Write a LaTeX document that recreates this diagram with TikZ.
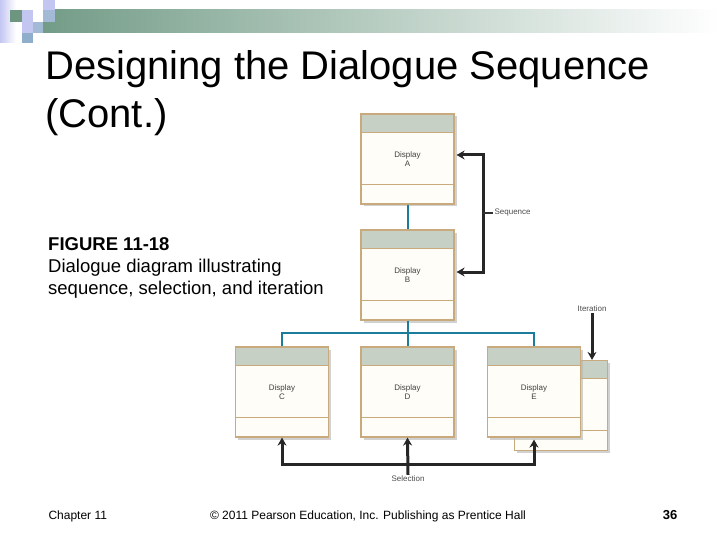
\documentclass[tikz,border=0pt]{standalone}
\usepackage{fontspec}
\setmainfont{Liberation Sans}
\usepackage{xcolor}
\usetikzlibrary{calc, shadows, arrows.meta}

\definecolor{barGreen}{HTML}{739C87}
\definecolor{sqGreen}{HTML}{6E9580}
\definecolor{sqLav}{HTML}{C4C6F2}
\definecolor{sqBlue}{HTML}{A3BAD6}
\definecolor{sqBlueDk}{HTML}{8FAECB}
\definecolor{boxTan}{HTML}{C9AA7C}
\definecolor{boxCream}{HTML}{FFFDF7}
\definecolor{boxHead}{HTML}{C7D0C5}
\definecolor{treeTeal}{HTML}{1C7C9C}

\begin{document}
\begin{tikzpicture}[x=1pt, y=-1pt,
  display/.style={rectangle, draw=boxTan, line width=1.2pt, fill=boxCream,
    minimum width=93pt, minimum height=90pt, inner sep=0pt,
    align=center, font=\fontsize{8}{9}\selectfont, text=black!75,
    drop shadow={shadow xshift=2.5pt, shadow yshift=-2.5pt, fill=black!30, opacity=0.6},
    path picture={
      \fill[boxHead] (path picture bounding box.north west) rectangle
        ($(path picture bounding box.north east)+(0,18)$);
      \draw[boxTan, line width=0.8pt] ($(path picture bounding box.north west)+(0,18)$) --
        ($(path picture bounding box.north east)+(0,18)$);
      \draw[boxTan, line width=0.8pt] ($(path picture bounding box.south west)+(0,-20)$) --
        ($(path picture bounding box.south east)+(0,-20)$);
    }},
  tree/.style={draw=treeTeal, line width=2pt},
  tip/.tip={Stealth[length=8pt, width=9pt]},
  flow/.style={draw=black!85, line width=3pt, -tip},
  lbl/.style={font=\fontsize{8}{9}\selectfont, text=black!70, inner sep=1pt}
]
  \useasboundingbox (0,0) rectangle (720,540);

  % corner squares and title bar
  \shade[left color=sqLav, right color=white] (0,0) rectangle (16,43);
  \shade[left color=barGreen, right color=white] (43,10) rectangle (720,33);
  \fill[sqGreen] (10,10) rectangle (22,22);
  \fill[sqLav] (22,10) rectangle (33,22);
  \fill[sqLav] (43,0) rectangle (55,10);
  \fill[sqBlue] (43,10) rectangle (55,22);
  \fill[sqLav] (22,22) rectangle (33,33);
  \fill[sqBlue] (33,22) rectangle (43,33);
  \fill[sqBlueDk] (22,33) rectangle (33,43);

  % title and caption
  \node[anchor=north west, align=left, inner sep=0pt, font=\fontsize{40}{48}\selectfont]
    (title) at (45,50) {Designing the Dialogue Sequence\\(Cont.)};
  \node[anchor=north west, align=left, inner sep=0pt, font=\fontsize{18.5}{22}\selectfont]
    (caption) at (48,237) {\textbf{FIGURE 11-18}\\Dialogue diagram illustrating\\sequence, selection, and iteration};

  % displays
  \node[display] (dispEb) at (561,405.5) {};
  \node[display] (dispA) at (407.5,159) {Display\\A};
  \node[display] (dispB) at (407.5,275) {Display\\B};
  \node[display] (dispC) at (282,392) {Display\\C};
  \node[display] (dispD) at (407.5,392) {Display\\D};
  \node[display] (dispE) at (534,392) {Display\\E};

  % tree lines
  \coordinate (jct) at (407.5,333);
  \draw[tree] (dispA.south) -- (dispB.north);
  \draw[tree] (dispB.south) -- (dispD.north);
  \draw[tree] (dispC.north) -- (dispC.north |- jct) -- (dispE.north |- jct) -- (dispE.north);

  % sequence
  \coordinate (seq) at (483,213);
  \draw[flow, tip-tip]
    ($(dispA.east)+(2,-4)$) -| (seq) |- ($(dispB.east)+(2,-3)$);
  \draw[black!80, line width=1.2pt] (seq) -- ++(10,0) node[right, lbl] (seqlbl) {Sequence};

  % iteration
  \node[lbl] (iterlbl) at (592,309) {Iteration};
  \draw[flow] (iterlbl.south) -- (iterlbl.south |- dispEb.north);

  % selection
  \node[lbl] (sellbl) at (408,479) {Selection};
  \coordinate (selbar) at (408,464);
  \draw[flow] (sellbl.north) -- (dispD.south);
  \draw[flow, tip-tip]
    (dispC.south) -- (dispC.south |- selbar) -- (dispE.south |- selbar) -- ($(dispE.south)+(0,2)$);

  % footer
  \node[anchor=west, font=\fontsize{12}{14}\selectfont] (chap) at (45,516) {Chapter 11};
  \node[font=\fontsize{12}{14}\selectfont] (copy) at (368,516) {© 2011 Pearson Education, Inc. Publishing as Prentice Hall};
  \node[font=\bfseries\fontsize{13}{15}\selectfont] (page) at (670,515) {36};
\end{tikzpicture}
\end{document}
